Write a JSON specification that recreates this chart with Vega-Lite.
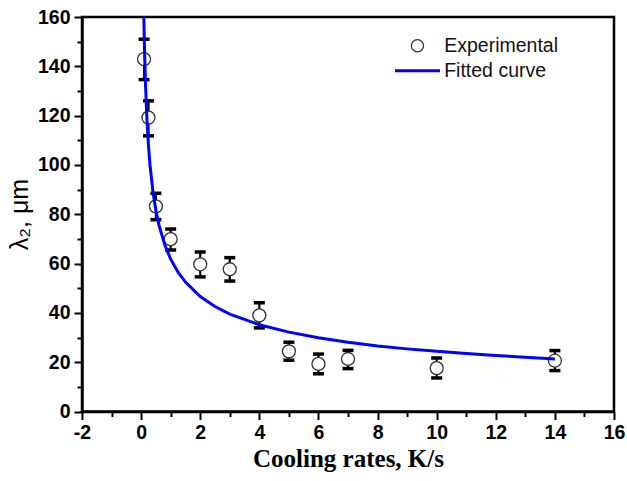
{
  "$schema": "https://vega.github.io/schema/vega-lite/v6.json",
  "width": 532,
  "height": 394.5,
  "autosize": "none",
  "padding": {"left": 82, "top": 17, "right": 13, "bottom": 69.5},
  "background": "white",
  "config": {
    "view": {"stroke": "black", "strokeWidth": 2.5},
    "axis": {
      "domainColor": "black", "domainWidth": 2.5, "tickColor": "black", "tickWidth": 2,
      "grid": false, "labelFont": "Liberation Sans", "labelFontWeight": "bold",
      "labelFontSize": 19.5, "labelColor": "black"
    }
  },
  "datasets": {
    "points": [
      {"rate": 0.1, "lambda": 142.9, "lo": 134.6, "hi": 151.0, "series": "Experimental"},
      {"rate": 0.25, "lambda": 119.2, "lo": 111.8, "hi": 126.0, "series": "Experimental"},
      {"rate": 0.5, "lambda": 83.2, "lo": 77.8, "hi": 88.5, "series": "Experimental"},
      {"rate": 1, "lambda": 69.9, "lo": 65.5, "hi": 74.0, "series": "Experimental"},
      {"rate": 2, "lambda": 59.7, "lo": 54.6, "hi": 64.7, "series": "Experimental"},
      {"rate": 3, "lambda": 57.7, "lo": 52.9, "hi": 62.4, "series": "Experimental"},
      {"rate": 4, "lambda": 39.0, "lo": 33.9, "hi": 44.1, "series": "Experimental"},
      {"rate": 5, "lambda": 24.4, "lo": 20.8, "hi": 28.1, "series": "Experimental"},
      {"rate": 6, "lambda": 19.3, "lo": 15.3, "hi": 23.3, "series": "Experimental"},
      {"rate": 7, "lambda": 21.3, "lo": 17.4, "hi": 24.8, "series": "Experimental"},
      {"rate": 10, "lambda": 17.6, "lo": 13.6, "hi": 21.7, "series": "Experimental"},
      {"rate": 14, "lambda": 20.6, "lo": 16.6, "hi": 24.7, "series": "Experimental"}
    ],
    "curve": [
      {"rate": 0.093, "lambda": 159.8, "series": "Fitted curve"},
      {"rate": 0.1, "lambda": 155.3, "series": "Fitted curve"},
      {"rate": 0.12, "lambda": 144.3, "series": "Fitted curve"},
      {"rate": 0.15, "lambda": 132.0, "series": "Fitted curve"},
      {"rate": 0.2, "lambda": 117.7, "series": "Fitted curve"},
      {"rate": 0.25, "lambda": 107.6, "series": "Fitted curve"},
      {"rate": 0.3, "lambda": 100.0, "series": "Fitted curve"},
      {"rate": 0.4, "lambda": 89.2, "series": "Fitted curve"},
      {"rate": 0.5, "lambda": 81.5, "series": "Fitted curve"},
      {"rate": 0.6, "lambda": 75.8, "series": "Fitted curve"},
      {"rate": 0.8, "lambda": 67.6, "series": "Fitted curve"},
      {"rate": 1.0, "lambda": 61.8, "series": "Fitted curve"},
      {"rate": 1.25, "lambda": 56.5, "series": "Fitted curve"},
      {"rate": 1.5, "lambda": 52.5, "series": "Fitted curve"},
      {"rate": 2.0, "lambda": 46.6, "series": "Fitted curve"},
      {"rate": 2.5, "lambda": 42.6, "series": "Fitted curve"},
      {"rate": 3.0, "lambda": 39.5, "series": "Fitted curve"},
      {"rate": 4.0, "lambda": 35.2, "series": "Fitted curve"},
      {"rate": 5.0, "lambda": 32.2, "series": "Fitted curve"},
      {"rate": 6.0, "lambda": 29.9, "series": "Fitted curve"},
      {"rate": 7.0, "lambda": 28.1, "series": "Fitted curve"},
      {"rate": 8.0, "lambda": 26.6, "series": "Fitted curve"},
      {"rate": 9.0, "lambda": 25.4, "series": "Fitted curve"},
      {"rate": 10.0, "lambda": 24.4, "series": "Fitted curve"},
      {"rate": 11.0, "lambda": 23.5, "series": "Fitted curve"},
      {"rate": 12.0, "lambda": 22.7, "series": "Fitted curve"},
      {"rate": 13.0, "lambda": 22.0, "series": "Fitted curve"},
      {"rate": 14.0, "lambda": 21.3, "series": "Fitted curve"}
    ]
  },
  "resolve": {"axis": {"x": "independent", "y": "independent"}},
  "layer": [
    {
      "data": {"name": "points"},
      "mark": {
        "type": "errorbar",
        "ticks": {"size": 11, "thickness": 3.5, "color": "black", "opacity": 1},
        "rule": {"strokeWidth": 2.2, "color": "black", "opacity": 1}
      },
      "encoding": {
        "x": {
          "field": "rate", "type": "quantitative",
          "scale": {"domain": [-2, 16], "nice": false, "zero": false},
          "axis": {
            "orient": "bottom",
            "values": [-2, 0, 2, 4, 6, 8, 10, 12, 14, 16],
            "labelExpr": "toString(datum.value)",
            "tickSize": 8, "labelPadding": 4, "labelFlush": false,
            "title": "Cooling rates, K/s",
            "titleFont": "Liberation Serif", "titleFontSize": 25, "titleFontWeight": "bold",
            "titleColor": "black", "titleX": 266, "titleY": 47,
            "titleAlign": "center", "titleBaseline": "middle", "titleAnchor": null
          }
        },
        "y": {
          "field": "lo", "type": "quantitative",
          "scale": {"domain": [0, 160], "nice": false},
          "axis": {
            "orient": "left",
            "values": [0, 20, 40, 60, 80, 100, 120, 140, 160],
            "tickSize": 8, "labelPadding": 4,
            "title": "λ₂, μm",
            "titleFont": "Liberation Sans", "titleFontSize": 25, "titleFontWeight": "normal",
            "titleColor": "black", "titleX": -63, "titleY": 197, "titleAngle": -90,
            "titleAlign": "center", "titleBaseline": "middle"
          }
        },
        "y2": {"field": "hi"}
      }
    },
    {
      "data": {"name": "points"},
      "mark": {
        "type": "point", "shape": "circle", "filled": false, "fill": "white",
        "size": 169, "strokeWidth": 1.3, "opacity": 1
      },
      "encoding": {
        "x": {"field": "rate", "type": "quantitative", "axis": null},
        "y": {"field": "lambda", "type": "quantitative", "axis": null},
        "color": {
          "field": "series", "type": "nominal",
          "scale": {"domain": ["Experimental", "Fitted curve"], "range": ["#333333", "#0000ff"]}
        }
      }
    },
    {
      "data": {"name": "curve"},
      "mark": {"type": "line", "strokeWidth": 3, "clip": true},
      "encoding": {
        "x": {
          "field": "rate", "type": "quantitative",
          "axis": {
            "orient": "bottom", "values": [-1, 1, 3, 5, 7, 9, 11, 13, 15],
            "tickSize": 5, "labels": false, "domain": false, "title": null
          }
        },
        "y": {
          "field": "lambda", "type": "quantitative",
          "axis": {
            "orient": "left", "values": [10, 30, 50, 70, 90, 110, 130, 150],
            "tickSize": 5, "labels": false, "domain": false, "title": null
          }
        },
        "color": {
          "field": "series", "type": "nominal",
          "scale": {"domain": ["Experimental", "Fitted curve"], "range": ["#333333", "#0000ff"]},
          "legend": {
            "title": null, "orient": "none", "legendX": 325.7, "legendY": 19,
            "padding": 0, "labelFont": "Liberation Sans", "labelFontSize": 19.5,
            "labelColor": "#111111", "labelOffset": 17, "rowPadding": 4,
            "symbolType": "circle",
            "encode": {
              "symbols": {
                "update": {
                  "shape": {"signal": "datum.value === 'Fitted curve' ? 'stroke' : 'circle'"},
                  "size": {"signal": "datum.value === 'Fitted curve' ? 2025 : 150"},
                  "strokeWidth": {"signal": "datum.value === 'Fitted curve' ? 3 : 1.3"},
                  "stroke": {"signal": "datum.value === 'Fitted curve' ? '#0000ff' : '#333333'"},
                  "fill": {"value": "white"},
                  "opacity": {"value": 1}
                }
              }
            }
          }
        }
      }
    }
  ]
}
